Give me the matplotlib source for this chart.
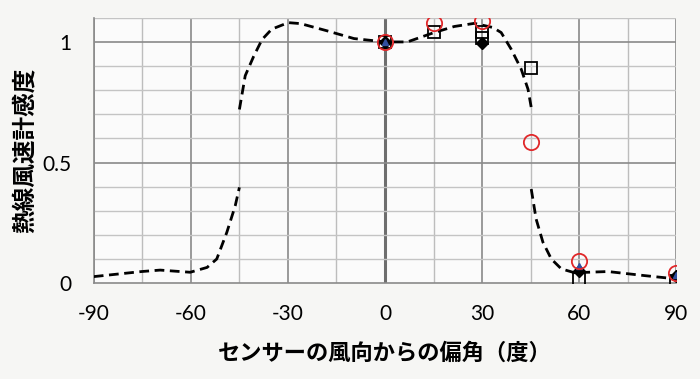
import numpy as np
import matplotlib
matplotlib.use("Agg")
import matplotlib.pyplot as plt

plt.rcParams['font.family'] = ['Noto Sans CJK JP', 'DejaVu Sans']

# ---------- data ----------
# dashed curve, left part (below / above the gap at -45)
curve_l_lo_x = [-90, -75.2, -69.5, -60.2, -55, -52, -48.9, -46.3, -45]
curve_l_lo_y = [0.027, 0.048, 0.054, 0.045, 0.065, 0.10, 0.21, 0.32, 0.397]
curve_mid_x = [-45, -43.2, -40.6, -38, -35, -29.9, -26.1, -17.9, -9.6, 0,
               6.9, 15.2, 21.4, 27.6, 33.3, 35.9, 39, 42.1, 44.2, 45.2]
curve_mid_y = [0.72, 0.86, 0.94, 1.01, 1.053, 1.08, 1.076, 1.046, 1.014, 1.0,
               1.0, 1.039, 1.064, 1.077, 1.06, 1.039, 0.97, 0.887, 0.804, 0.728]
curve_r_lo_x = [45.2, 46.7, 48.8, 51.4, 54.5, 58.6, 68.9, 80.3, 89.6]
curve_r_lo_y = [0.39, 0.266, 0.17, 0.10, 0.059, 0.043, 0.048, 0.031, 0.018]

# measured points
circle_x = [0, 15, 30, 45, 60, 90]
circle_y = [1.0, 1.08, 1.085, 0.585, 0.09, 0.04]
square_x = [0, 15, 30, 30, 45, 60, 90]
square_y = [1.0, 1.04, 1.04, 1.015, 0.89, 0.015, 0.007]
diamond_x = [0, 30, 60, 90]
diamond_y = [1.0, 0.995, 0.05, 0.03]
tri_x = [0, 60, 90]
tri_y = [1.0, 0.07, 0.035]

xticks = [-90, -60, -30, 0, 30, 60, 90]
yticks = [0, 0.5, 1]
ytick_labels = ["0", "0.5", "1"]

fig = plt.figure(figsize=(7, 3.79), dpi=100, facecolor="#f6f6f4")
ax = fig.add_axes([0.134, 0.253, 0.832, 0.7])
ax.set_facecolor("#fbfbfb")

# grid
for gx in range(-90, 91, 15):
    if gx == 0:
        ax.axvline(gx, color="#6e6e6e", lw=2.2, zorder=1)
    elif gx % 30 == 0:
        ax.axvline(gx, color="#8a8a8a", lw=1.2, zorder=1)
    else:
        ax.axvline(gx, color="#bdbdbd", lw=1.0, zorder=1)
for gy in np.arange(0.1, 1.11, 0.1):
    major = abs(gy - 0.5) < 1e-6 or abs(gy - 1.0) < 1e-6
    ax.axhline(gy, color="#8a8a8a" if major else "#c4c4c4",
               lw=1.2 if major else 1.0, zorder=1)

# dashed curve
for cx, cy in [(curve_l_lo_x, curve_l_lo_y), (curve_mid_x, curve_mid_y),
               (curve_r_lo_x, curve_r_lo_y)]:
    ax.plot(cx, cy, color="black", lw=2, ls=(0, (3.5, 2)), zorder=3)

# markers
ax.plot(square_x, square_y, ls="none", marker="s", ms=8, mfc="none",
        mec="black", mew=1.3, zorder=4)
ax.plot(diamond_x, diamond_y, ls="none", marker="D", ms=6, mfc="black",
        mec="black", zorder=5)
ax.plot(tri_x, tri_y, ls="none", marker="^", ms=5, mfc="#2f4f9f",
        mec="#2f4f9f", zorder=6)
ax.plot(circle_x, circle_y, ls="none", marker="o", ms=11, mfc="none",
        mec="#e0282a", mew=1.3, zorder=7)

ax.set_xlim(-90, 90)
ax.set_ylim(0, 1.1)
ax.set_xticks(xticks)
ax.set_xticklabels([str(t) for t in xticks], family=["Lato", "DejaVu Sans"])
ax.set_yticks(yticks)
ax.set_yticklabels(ytick_labels, family=["Lato", "DejaVu Sans"])
ax.tick_params(length=0, labelsize=15)
ax.tick_params(axis="x", pad=15)
ax.tick_params(axis="y", pad=16)
for s in ["top", "right"]:
    ax.spines[s].set_visible(False)
for s in ["left", "bottom"]:
    ax.spines[s].set_color("#8a8a8a")
    ax.spines[s].set_linewidth(1.2)

ax.set_xlabel("センサーの風向からの偏角（度）", fontsize=16, fontweight="bold", labelpad=13)
ax.set_ylabel("熱線風速計感度", fontsize=17, fontweight="bold", labelpad=4)

fig.savefig("out.png", dpi=100, facecolor=fig.get_facecolor())
